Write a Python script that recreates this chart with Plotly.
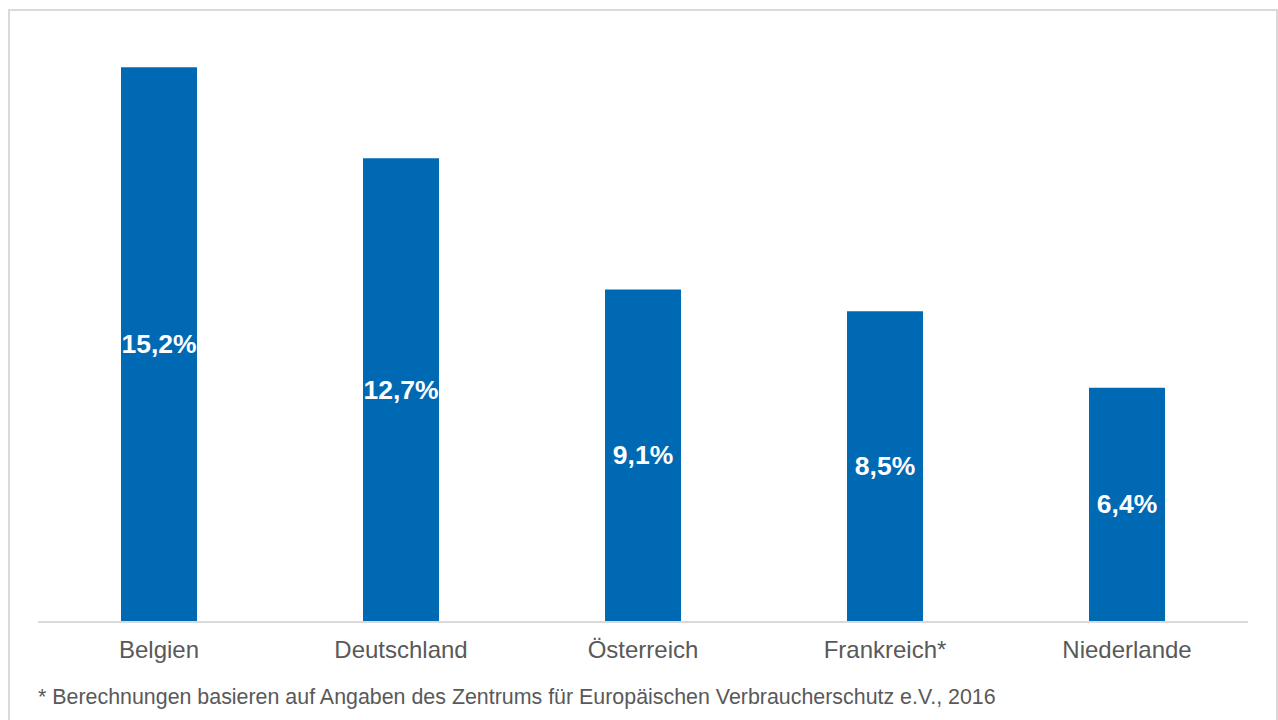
import plotly.graph_objects as go

# Data
laender = ["Belgien", "Deutschland", "Österreich", "Frankreich*", "Niederlande"]
anteile = [15.2, 12.7, 9.1, 8.5, 6.4]
beschriftung = ["15,2%", "12,7%", "9,1%", "8,5%", "6,4%"]
fussnote = "* Berechnungen basieren auf Angaben des Zentrums für Europäischen Verbraucherschutz e.V., 2016"

W, H = 1278, 720
ML, MR, MT, MB = 38, 30, 38, 99
pw = W - ML - MR
ph = H - MT - MB

def px_x(x):
    return (x - ML) / pw

def px_y(y):
    return (H - MB - y) / ph

fig = go.Figure(
    go.Bar(
        x=laender,
        y=anteile,
        text=beschriftung,
        textposition="inside",
        insidetextanchor="middle",
        textangle=0,
        constraintext="none",
        cliponaxis=False,
        textfont=dict(family="Liberation Sans, Arial", size=26.5, color="white", weight="bold"),
        marker=dict(color="#0069B4", line=dict(width=0)),
        width=0.314,
        hoverinfo="skip",
    )
)

fig.update_layout(
    width=W,
    height=H,
    margin=dict(l=ML, r=MR, t=MT, b=MB),
    paper_bgcolor="white",
    plot_bgcolor="white",
    showlegend=False,
    font=dict(family="Liberation Sans, Arial", color="#595959"),
    uniformtext=dict(minsize=10, mode="show"),
    xaxis=dict(
        showline=True,
        linecolor="#D9D9D9",
        linewidth=2,
        showgrid=False,
        ticks="outside",
        ticklen=6,
        tickcolor="rgba(0,0,0,0)",
        tickfont=dict(size=24, color="#595959"),
        fixedrange=True,
    ),
    yaxis=dict(
        range=[0, 16],
        visible=False,
        showgrid=False,
        zeroline=False,
        fixedrange=True,
    ),
    shapes=[
        dict(
            type="rect",
            xref="paper",
            yref="paper",
            x0=px_x(9),
            x1=px_x(1277),
            y0=px_y(730),
            y1=px_y(10),
            line=dict(color="#D9D9D9", width=2),
            fillcolor="rgba(0,0,0,0)",
            layer="below",
        )
    ],
    annotations=[
        dict(
            text=fussnote,
            xref="paper",
            yref="paper",
            x=px_x(36),
            y=px_y(697),
            xanchor="left",
            yanchor="middle",
            showarrow=False,
            font=dict(size=21.4, color="#595959"),
        )
    ],
)

fig.write_html("out.html")
